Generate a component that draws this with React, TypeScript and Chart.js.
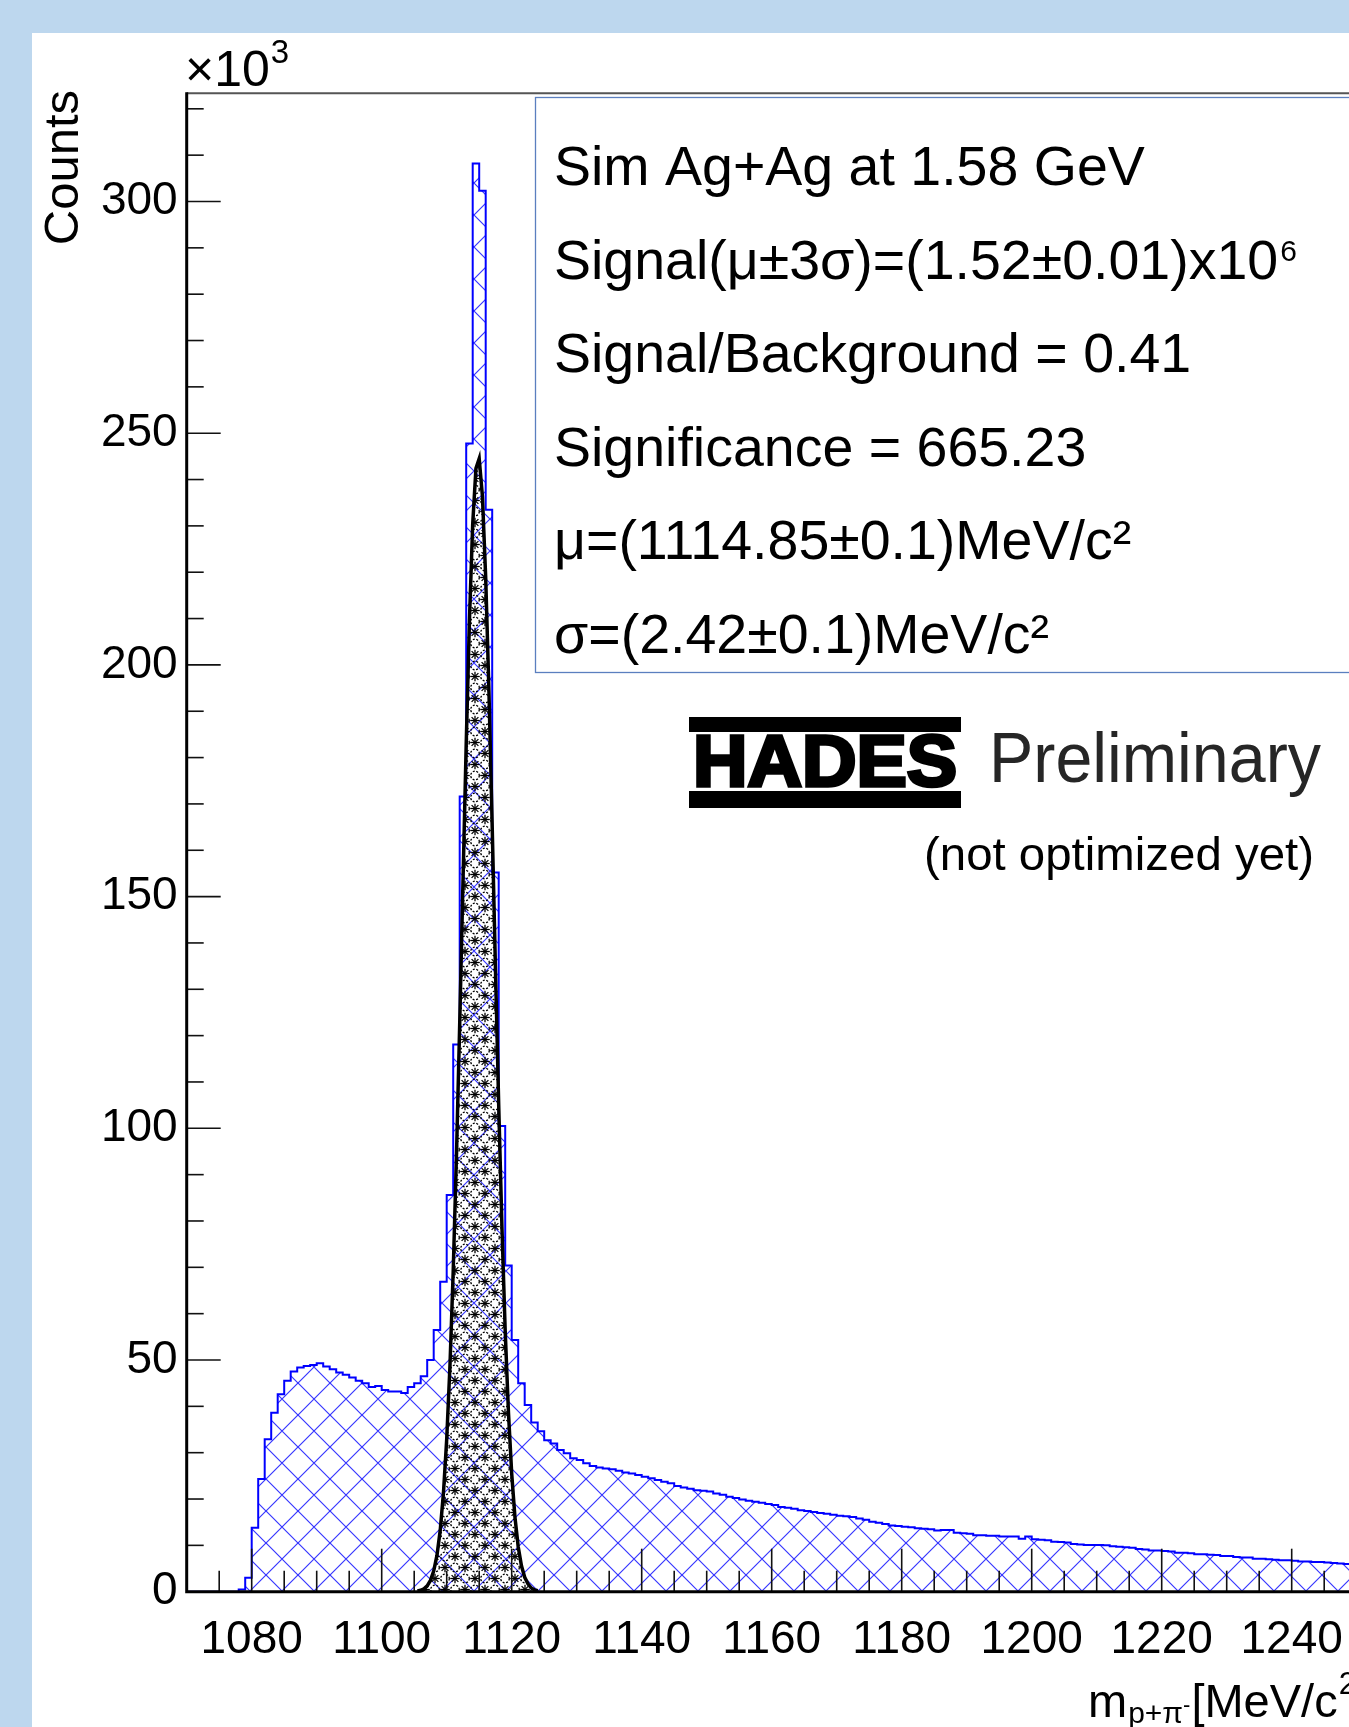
import React, { useEffect, useRef } from "react";
import { Chart, registerables } from "chart.js";

Chart.register(...registerables);

const FONT = "'Liberation Sans', Arial, Helvetica, sans-serif";

// ---------------- data ----------------
// low edges of 1 MeV/c^2 bins (last entry closes the final bin)
const binEdges = [
  1070, 1071, 1072, 1073, 1074, 1075, 1076, 1077, 1078, 1079,
  1080, 1081, 1082, 1083, 1084, 1085, 1086, 1087, 1088, 1089,
  1090, 1091, 1092, 1093, 1094, 1095, 1096, 1097, 1098, 1099,
  1100, 1101, 1102, 1103, 1104, 1105, 1106, 1107, 1108, 1109,
  1110, 1111, 1112, 1113, 1114, 1115, 1116, 1117, 1118, 1119,
  1120, 1121, 1122, 1123, 1124, 1125, 1126, 1127, 1128, 1129,
  1130, 1131, 1132, 1133, 1134, 1135, 1136, 1137, 1138, 1139,
  1140, 1141, 1142, 1143, 1144, 1145, 1146, 1147, 1148, 1149,
  1150, 1151, 1152, 1153, 1154, 1155, 1156, 1157, 1158, 1159,
  1160, 1161, 1162, 1163, 1164, 1165, 1166, 1167, 1168, 1169,
  1170, 1171, 1172, 1173, 1174, 1175, 1176, 1177, 1178, 1179,
  1180, 1181, 1182, 1183, 1184, 1185, 1186, 1187, 1188, 1189,
  1190, 1191, 1192, 1193, 1194, 1195, 1196, 1197, 1198, 1199,
  1200, 1201, 1202, 1203, 1204, 1205, 1206, 1207, 1208, 1209,
  1210, 1211, 1212, 1213, 1214, 1215, 1216, 1217, 1218, 1219,
  1220, 1221, 1222, 1223, 1224, 1225, 1226, 1227, 1228, 1229,
  1230, 1231, 1232, 1233, 1234, 1235, 1236, 1237, 1238, 1239,
  1240, 1241, 1242, 1243, 1244, 1245, 1246, 1247, 1248, 1249,
  1250, 1251, 1252, 1253, 1254, 1255, 1256, 1257, 1258, 1259,
  1260,
];

// total p+pi- invariant-mass counts per bin (x10^3)
const totalCounts = [
  0, 0, 0, 0, 0, 0, 0, 0, 0.5, 3.0,
  13.8, 24.3, 32.9, 38.6, 42.6, 45.5, 47.5, 48.4, 48.7, 48.9,
  49.3, 48.6, 48.0, 47.3, 46.8, 46.2, 45.5, 45.0, 44.2, 44.4,
  43.5, 43.2, 43.2, 42.9, 44.2, 45.0, 46.5, 50.0, 56.5, 66.9,
  85.6, 118.1, 171.6, 247.8, 308.2, 302.3, 233.5, 155.2, 100.5, 70.4,
  54.3, 45.0, 40.3, 36.5, 34.6, 32.7, 32.0, 30.6, 29.9, 28.8,
  28.4, 27.7, 27.1, 26.8, 26.6, 26.4, 26.1, 25.7, 25.5, 25.2,
  24.8, 24.5, 24.1, 23.7, 23.4, 22.8, 22.5, 22.2, 21.9, 21.8,
  21.6, 21.2, 20.9, 20.5, 20.2, 19.9, 19.6, 19.4, 19.2, 18.9,
  18.7, 18.3, 18.1, 17.9, 17.6, 17.4, 17.2, 17.0, 16.8, 16.6,
  16.4, 16.3, 16.1, 15.8, 15.5, 15.1, 14.9, 14.6, 14.3, 14.2,
  14.0, 13.9, 13.7, 13.6, 13.5, 13.2, 13.3, 13.3, 12.7, 12.6,
  12.5, 12.2, 12.2, 12.1, 12.1, 11.9, 11.9, 11.9, 11.4, 11.9,
  11.3, 11.2, 11.1, 10.8, 10.7, 10.6, 10.3, 10.2, 10.1, 10.1,
  10.1, 10.0, 9.8, 9.7, 9.6, 9.5, 9.2, 9.1, 8.9, 8.9,
  8.8, 8.7, 8.4, 8.4, 8.3, 8.1, 8.1, 8.0, 7.9, 7.7,
  7.7, 7.5, 7.4, 7.4, 7.1, 7.1, 7.0, 6.9, 6.8, 6.8,
  6.7, 6.5, 6.5, 6.4, 6.4, 6.3, 6.2, 6.1, 6.0, 6.0,
  5.9, 5.8, 5.8, 5.7, 5.6, 5.6, 5.5, 5.4, 5.4, 5.3,
];

// signal (fit) curve
const signalMass = [
  1105.5, 1106, 1106.5, 1107, 1107.5, 1108, 1108.5, 1109, 1109.5, 1110,
  1110.5, 1111, 1111.5, 1112, 1112.5, 1113, 1113.5, 1114, 1114.5, 1115,
  1115.5, 1116, 1116.5, 1117, 1117.5, 1118, 1118.5, 1119, 1119.5, 1120,
  1120.5, 1121, 1121.5, 1122, 1122.5, 1123, 1123.5, 1124,
];
const signalCounts = [
  0.14, 0.31, 0.64, 1.27, 2.43, 4.46, 7.84, 13.2, 21.3, 32.9,
  48.7, 69.1, 94.0, 122.5, 152.9, 182.9, 209.7, 230.4, 242.4, 244.5,
  236.3, 218.8, 194.2, 165.1, 134.5, 105.0, 78.6, 56.3, 38.7, 25.5,
  16.1, 9.7, 5.6, 3.1, 1.7, 0.8, 0.4, 0.2,
];

const xTickValues = [1080, 1100, 1120, 1140, 1160, 1180, 1200, 1220, 1240];
const yTickValues = [0, 50, 100, 150, 200, 250, 300];

const statsLines = [
  "Sim Ag+Ag at 1.58 GeV",
  "Signal(\u03bc\u00b13\u03c3)=(1.52\u00b10.01)x10",
  "Signal/Background = 0.41",
  "Significance = 665.23",
  "\u03bc=(1114.85\u00b10.1)MeV/c\u00b2",
  "\u03c3=(2.42\u00b10.1)MeV/c\u00b2",
];

// ---------------- layout ----------------
const CW = 1460;
const CH = 1727;
const LEFT = 186.7;
const TOP = 93.3;
const BOTTOM = 1591.7;
const X_MIN = 1070;
const X_MAX = 1260;
const RIGHT = LEFT + (X_MAX - X_MIN) * 6.5;
const Y_MAX = (BOTTOM - TOP) / 4.634;

function makeHatch(ctx: CanvasRenderingContext2D) {
  const t = document.createElement("canvas");
  t.width = 32;
  t.height = 32;
  const c = t.getContext("2d")!;
  c.strokeStyle = "rgba(20,20,255,0.85)";
  c.lineWidth = 1.2;
  for (const k of [-32, 0, 32]) {
    c.beginPath();
    c.moveTo(k, 0);
    c.lineTo(k + 32, 32);
    c.moveTo(k + 32, 0);
    c.lineTo(k, 32);
    c.stroke();
  }
  const p = ctx.createPattern(t, "repeat")!;
  try {
    p.setTransform(new DOMMatrix().translate(10, 7));
  } catch (e) {}
  return p;
}

function makeStars(ctx: CanvasRenderingContext2D) {
  const t = document.createElement("canvas");
  t.width = 20;
  t.height = 22;
  const c = t.getContext("2d")!;
  c.strokeStyle = "#000";
  c.lineWidth = 1.3;
  const star = (x: number, y: number) => {
    const r = 4.8;
    for (let a = 0; a < 4; a++) {
      const ang = (a * Math.PI) / 4;
      c.beginPath();
      c.moveTo(x - r * Math.cos(ang), y - r * Math.sin(ang));
      c.lineTo(x + r * Math.cos(ang), y + r * Math.sin(ang));
      c.stroke();
    }
  };
  const circ = (x: number, y: number) => {
    c.setLineDash([2, 1.5]);
    c.beginPath();
    c.arc(x, y, 4.3, 0, Math.PI * 2);
    c.stroke();
    c.setLineDash([]);
  };
  star(5, 5.5);
  circ(15, 5.5);
  circ(5, 16.5);
  star(15, 16.5);
  return ctx.createPattern(t, "repeat")!;
}

type Seg = { text: string; size: number; dy: number; weight?: string };
function drawSegs(ctx: CanvasRenderingContext2D, x: number, y: number, segs: Seg[]) {
  let cx = x;
  for (const s of segs) {
    ctx.font = `${s.weight || "normal"} ${s.size}px ${FONT}`;
    ctx.fillText(s.text, cx, y + s.dy);
    cx += ctx.measureText(s.text).width;
  }
  return cx;
}

function fitText(ctx: CanvasRenderingContext2D, text: string, x: number, y: number, width: number, font: string) {
  ctx.font = font;
  const w = ctx.measureText(text).width;
  ctx.save();
  ctx.translate(x, y);
  ctx.scale(width / w, 1);
  ctx.fillText(text, 0, 0);
  ctx.restore();
}

const framePlugin = {
  id: "rootFrame",
  afterDatasetsDraw(chart: any) {
    const { ctx, chartArea, scales } = chart;
    const xs = scales.x;
    const ys = scales.y;
    const { left, top, bottom, right } = chartArea;
    ctx.save();
    ctx.strokeStyle = "#111";
    ctx.lineWidth = 1.6;
    for (let v = X_MIN + 5; v < X_MAX; v += 5) {
      const px = xs.getPixelForValue(v);
      const len = v % 20 === 0 ? 43 : 21;
      ctx.beginPath();
      ctx.moveTo(px, bottom);
      ctx.lineTo(px, bottom - len);
      ctx.stroke();
    }
    for (let v = 10; v <= 320; v += 10) {
      const py = ys.getPixelForValue(v);
      const len = v % 50 === 0 ? 34 : 17;
      ctx.beginPath();
      ctx.moveTo(left, py);
      ctx.lineTo(left + len, py);
      ctx.stroke();
    }
    // frame
    ctx.strokeStyle = "#555";
    ctx.lineWidth = 2;
    ctx.beginPath();
    ctx.moveTo(left, top);
    ctx.lineTo(right + 10, top);
    ctx.stroke();
    ctx.strokeStyle = "#000";
    ctx.lineWidth = 3;
    ctx.beginPath();
    ctx.moveTo(left, top - 1);
    ctx.lineTo(left, bottom);
    ctx.lineTo(right + 10, bottom);
    ctx.stroke();
    ctx.restore();
  },
  afterDraw(chart: any) {
    const ctx: CanvasRenderingContext2D = chart.ctx;
    ctx.save();
    ctx.fillStyle = "#000";
    ctx.textBaseline = "alphabetic";
    ctx.textAlign = "left";

    // x10^3
    const ex = drawSegs(ctx, 185, 86, [{ text: "\u00d710", size: 50, dy: 0 }]);
    ctx.font = `33px ${FONT}`;
    ctx.fillText("3", ex + 1, 63);

    // y title
    ctx.save();
    ctx.translate(78, 90);
    ctx.rotate(-Math.PI / 2);
    ctx.textAlign = "right";
    ctx.font = `49px ${FONT}`;
    ctx.fillText("Counts", 0, 0);
    ctx.restore();

    // x title
    let cx = drawSegs(ctx, 1088, 1717, [{ text: "m", size: 47, dy: 0 }]);
    cx = drawSegs(ctx, cx + 1, 1723, [{ text: "p+\u03c0", size: 30, dy: 0 }]);
    cx = drawSegs(ctx, cx, 1712, [{ text: "-", size: 22, dy: 0 }]);
    cx = drawSegs(ctx, cx + 1, 1717, [{ text: "[MeV/c", size: 47, dy: 0 }]);
    cx = drawSegs(ctx, cx + 1, 1694, [{ text: "2", size: 31, dy: 0 }]);
    drawSegs(ctx, cx, 1717, [{ text: "]", size: 47, dy: 0 }]);

    // stats box
    ctx.fillStyle = "#fff";
    ctx.fillRect(535, 97, 900, 576);
    ctx.strokeStyle = "#5b7fbf";
    ctx.lineWidth = 1.3;
    ctx.strokeRect(535.5, 97.5, 900, 575);
    ctx.fillStyle = "#000";
    const baselines = [185, 278.5, 372, 465.5, 559, 652.5];
    statsLines.forEach((line, i) => {
      const endX = drawSegs(ctx, 554, baselines[i], [{ text: line, size: 55.5, dy: 0 }]);
      if (i === 1) drawSegs(ctx, endX + 2, baselines[i] - 18, [{ text: "6", size: 30, dy: 0 }]);
    });

    // HADES logo
    ctx.fillStyle = "#000";
    ctx.fillRect(689, 717, 272, 15);
    ctx.fillRect(689, 791, 272, 17);
    ctx.strokeStyle = "#000";
    ctx.lineWidth = 3.5;
    ctx.font = `bold 72px ${FONT}`;
    {
      const w = ctx.measureText("HADES").width;
      ctx.save();
      ctx.translate(693, 786);
      ctx.scale(264 / w, 1);
      ctx.fillText("HADES", 0, 0);
      ctx.strokeText("HADES", 0, 0);
      ctx.restore();
    }
    ctx.fillStyle = "#262626";
    fitText(ctx, "Preliminary", 989, 782, 332, `70px ${FONT}`);
    ctx.fillStyle = "#000";
    fitText(ctx, "(not optimized yet)", 924, 870, 390, `46px ${FONT}`);
    ctx.restore();
  },
};

export default function App() {
  const ref = useRef<HTMLCanvasElement | null>(null);
  useEffect(() => {
    const canvas = ref.current!;
    const ctx = canvas.getContext("2d")!;
    const hatch = makeHatch(ctx);
    const stars = makeStars(ctx);
    const histPoints = binEdges.map((x, i) => ({
      x,
      y: i < totalCounts.length ? totalCounts[i] : totalCounts[totalCounts.length - 1],
    }));
    const sigPoints = signalMass.map((x, i) => ({ x, y: signalCounts[i] }));
    const chart = new Chart(canvas, {
      type: "line",
      data: {
        datasets: [
          {
            data: sigPoints,
            order: 1,
            borderColor: "#000",
            borderWidth: 3.5,
            backgroundColor: stars as any,
            fill: "origin",
            pointRadius: 0,
            tension: 0,
          },
          {
            data: histPoints,
            order: 2,
            stepped: "before",
            borderColor: "#0000ff",
            borderWidth: 2,
            backgroundColor: hatch as any,
            fill: "origin",
            pointRadius: 0,
          },
        ],
      },
      options: {
        animation: false,
        responsive: false,
        events: [],
        layout: { padding: { left: 0, top: TOP, right: CW - RIGHT, bottom: 0 } },
        plugins: { legend: { display: false }, tooltip: { enabled: false }, title: { display: false } },
        scales: {
          x: {
            type: "linear",
            min: X_MIN,
            max: X_MAX,
            grid: { display: false, drawTicks: false },
            border: { display: false },
            ticks: {
              color: "#000",
              font: { family: FONT, size: 46 },
              padding: 21,
              maxRotation: 0,
              autoSkip: false,
              callback: (v: any) => String(v),
            },
            afterBuildTicks: (s: any) => {
              s.ticks = xTickValues.map((v) => ({ value: v }));
            },
            afterFit: (s: any) => {
              s.height = CH - BOTTOM;
            },
          },
          y: {
            type: "linear",
            min: 0,
            max: Y_MAX,
            grid: { display: false, drawTicks: false },
            border: { display: false },
            ticks: {
              color: "#000",
              font: { family: FONT, size: 46 },
              padding: 9,
              autoSkip: false,
              callback: (v: any) => String(v),
            },
            afterBuildTicks: (s: any) => {
              s.ticks = yTickValues.map((v) => ({ value: v }));
            },
            afterFit: (s: any) => {
              s.width = LEFT;
            },
          },
        },
      } as any,
      plugins: [framePlugin],
    });
    return () => chart.destroy();
  }, []);

  return (
    <div
      style={{
        position: "fixed",
        left: 0,
        top: 0,
        width: 1349,
        height: 1727,
        overflow: "hidden",
        background: "#BDD7EE",
      }}
    >
      <div style={{ position: "absolute", left: 32, top: 33, right: 0, bottom: 0, background: "#fff" }} />
      <canvas
        ref={ref}
        width={CW}
        height={CH}
        style={{ position: "absolute", left: 0, top: 0, width: CW, height: CH }}
      />
    </div>
  );
}
